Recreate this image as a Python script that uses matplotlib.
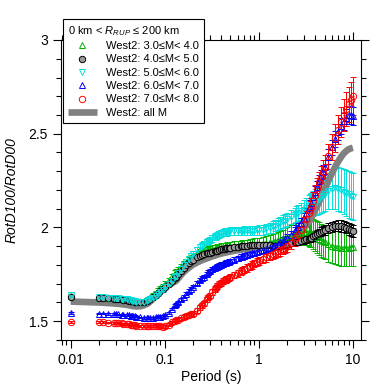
import numpy as np
import matplotlib
matplotlib.use("Agg")
import matplotlib.pyplot as plt
from matplotlib.lines import Line2D
from matplotlib.ticker import FixedLocator, NullFormatter, FixedFormatter, MultipleLocator

plt.rcParams['font.family'] = ['Liberation Sans', 'DejaVu Sans']
plt.rcParams['mathtext.fontset'] = 'custom'
plt.rcParams['mathtext.it'] = 'Liberation Sans:italic'
plt.rcParams['mathtext.rm'] = 'Liberation Sans'

# NGA-West2 periods (s)
periods = [0.01, 0.02, 0.022, 0.025, 0.029, 0.03, 0.032, 0.035, 0.036, 0.04,
           0.042, 0.044, 0.045, 0.046, 0.048, 0.05, 0.055, 0.06, 0.065, 0.067,
           0.07, 0.075, 0.08, 0.085, 0.09, 0.095, 0.1, 0.11, 0.12, 0.13,
           0.133, 0.14, 0.15, 0.16, 0.17, 0.18, 0.19, 0.2, 0.22, 0.24,
           0.25, 0.26, 0.28, 0.29, 0.3, 0.32, 0.34, 0.35, 0.36, 0.38,
           0.4, 0.42, 0.44, 0.45, 0.46, 0.48, 0.5, 0.55, 0.6, 0.65,
           0.667, 0.7, 0.75, 0.8, 0.85, 0.9, 0.95, 1, 1.1, 1.2,
           1.3, 1.4, 1.5, 1.6, 1.7, 1.8, 1.9, 2, 2.2, 2.4,
           2.5, 2.6, 2.8, 3, 3.2, 3.4, 3.5, 3.6, 3.8, 4,
           4.2, 4.4, 4.6, 4.8, 5, 5.5, 6, 6.5, 7, 7.5,
           8, 8.5, 9, 9.5, 10]

# M 3-4
m34 = [1.636, 1.628, 1.627, 1.625, 1.622, 1.621, 1.620, 1.618, 1.617, 1.614,
       1.612, 1.610, 1.609, 1.608, 1.606, 1.605, 1.604, 1.608, 1.616, 1.620,
       1.627, 1.638, 1.651, 1.664, 1.677, 1.689, 1.700, 1.720, 1.740, 1.758,
       1.763, 1.775, 1.790, 1.804, 1.817, 1.828, 1.838, 1.846, 1.858, 1.866,
       1.869, 1.872, 1.877, 1.879, 1.881, 1.884, 1.887, 1.888, 1.889, 1.891,
       1.893, 1.894, 1.895, 1.896, 1.897, 1.898, 1.899, 1.901, 1.903, 1.904,
       1.905, 1.906, 1.907, 1.909, 1.910, 1.911, 1.912, 1.913, 1.915, 1.917,
       1.920, 1.923, 1.927, 1.931, 1.935, 1.940, 1.944, 1.948, 1.956, 1.963,
       1.966, 1.969, 1.973, 1.976, 1.977, 1.976, 1.975, 1.972, 1.966, 1.958,
       1.950, 1.941, 1.933, 1.926, 1.920, 1.910, 1.903, 1.898, 1.895, 1.893,
       1.892, 1.892, 1.893, 1.895, 1.897]
m34_err = [.008, .007, .007, .007, .007, .007, .007, .007, .007, .007,
           .007, .007, .007, .007, .007, .007, .008, .008, .008, .009,
           .009, .010, .010, .011, .011, .012, .012, .013, .013, .014,
           .014, .015, .015, .016, .016, .017, .017, .018, .018, .019,
           .019, .019, .020, .020, .020, .021, .021, .021, .022, .022,
           .022, .023, .023, .023, .024, .024, .024, .025, .026, .026,
           .027, .027, .028, .029, .030, .031, .032, .033, .035, .037,
           .039, .041, .043, .045, .047, .049, .051, .053, .056, .059,
           .061, .063, .066, .069, .072, .075, .077, .078, .080, .082,
           .084, .086, .088, .089, .090, .092, .094, .095, .096, .097,
           .098, .099, .100, .100, .100]

# M 4-5
m45 = [1.632, 1.626, 1.625, 1.622, 1.620, 1.619, 1.618, 1.616, 1.615, 1.612,
       1.610, 1.608, 1.607, 1.606, 1.604, 1.602, 1.600, 1.602, 1.608, 1.611,
       1.617, 1.627, 1.638, 1.650, 1.662, 1.673, 1.683, 1.701, 1.715, 1.732,
       1.738, 1.752, 1.770, 1.786, 1.800, 1.811, 1.820, 1.828, 1.840, 1.849,
       1.853, 1.856, 1.862, 1.864, 1.866, 1.870, 1.873, 1.875, 1.877, 1.880,
       1.883, 1.885, 1.887, 1.888, 1.889, 1.890, 1.891, 1.894, 1.897, 1.899,
       1.900, 1.901, 1.903, 1.905, 1.906, 1.907, 1.908, 1.909, 1.908, 1.906,
       1.904, 1.902, 1.901, 1.902, 1.904, 1.906, 1.909, 1.912, 1.917, 1.921,
       1.923, 1.925, 1.929, 1.933, 1.937, 1.941, 1.943, 1.946, 1.952, 1.958,
       1.964, 1.970, 1.976, 1.982, 1.987, 1.996, 2.003, 2.008, 2.010, 2.008,
       2.004, 1.999, 1.993, 1.987, 1.982]
m45_err = [.004, .003, .003, .003, .003, .003, .003, .003, .003, .003,
           .003, .003, .003, .003, .003, .003, .003, .003, .004, .004,
           .004, .004, .004, .005, .005, .005, .005, .005, .006, .006,
           .006, .006, .006, .007, .007, .007, .007, .007, .008, .008,
           .008, .008, .008, .008, .008, .009, .009, .009, .009, .009,
           .009, .009, .010, .010, .010, .010, .010, .010, .011, .011,
           .011, .011, .011, .012, .012, .012, .012, .013, .013, .013,
           .014, .014, .014, .015, .015, .015, .016, .016, .017, .017,
           .018, .018, .019, .019, .020, .020, .021, .021, .022, .022,
           .023, .023, .024, .024, .025, .026, .027, .028, .029, .030,
           .030, .031, .031, .032, .032]

# M 5-6
m56 = [1.638, 1.630, 1.628, 1.626, 1.624, 1.623, 1.622, 1.620, 1.619, 1.616,
       1.613, 1.611, 1.609, 1.608, 1.606, 1.604, 1.602, 1.603, 1.608, 1.611,
       1.616, 1.624, 1.634, 1.645, 1.657, 1.668, 1.680, 1.700, 1.716, 1.735,
       1.742, 1.758, 1.780, 1.800, 1.818, 1.834, 1.848, 1.860, 1.880, 1.896,
       1.903, 1.910, 1.922, 1.928, 1.933, 1.942, 1.950, 1.954, 1.957, 1.963,
       1.968, 1.972, 1.975, 1.976, 1.977, 1.979, 1.980, 1.982, 1.983, 1.983,
       1.983, 1.983, 1.982, 1.982, 1.982, 1.983, 1.984, 1.985, 1.988, 1.992,
       1.997, 2.003, 2.010, 2.017, 2.024, 2.031, 2.037, 2.043, 2.055, 2.066,
       2.071, 2.076, 2.086, 2.095, 2.104, 2.113, 2.117, 2.121, 2.128, 2.135,
       2.142, 2.150, 2.160, 2.170, 2.178, 2.195, 2.205, 2.210, 2.205, 2.198,
       2.190, 2.183, 2.177, 2.170, 2.165]
m56_err = [.008, .006, .006, .006, .006, .006, .006, .006, .006, .006,
           .006, .006, .006, .006, .006, .006, .006, .006, .007, .007,
           .007, .008, .008, .009, .009, .010, .010, .011, .011, .012,
           .012, .013, .013, .014, .014, .015, .015, .016, .016, .017,
           .017, .017, .018, .018, .018, .018, .019, .019, .019, .019,
           .020, .020, .020, .020, .020, .020, .021, .021, .022, .022,
           .022, .023, .023, .024, .024, .025, .025, .026, .027, .028,
           .029, .030, .031, .032, .033, .034, .035, .036, .038, .040,
           .042, .044, .047, .050, .054, .058, .060, .062, .066, .070,
           .074, .078, .082, .086, .090, .098, .105, .110, .115, .118,
           .120, .122, .124, .125, .126]

# M 6-7
m67 = [1.545, 1.540, 1.540, 1.539, 1.538, 1.537, 1.536, 1.535, 1.534, 1.532,
       1.531, 1.530, 1.529, 1.528, 1.527, 1.525, 1.521, 1.518, 1.517, 1.517,
       1.517, 1.518, 1.520, 1.522, 1.525, 1.528, 1.532, 1.545, 1.565, 1.585,
       1.590, 1.602, 1.617, 1.632, 1.647, 1.661, 1.673, 1.684, 1.703, 1.721,
       1.730, 1.738, 1.753, 1.760, 1.766, 1.776, 1.784, 1.788, 1.791, 1.797,
       1.802, 1.806, 1.810, 1.812, 1.814, 1.818, 1.821, 1.829, 1.836, 1.842,
       1.844, 1.848, 1.853, 1.858, 1.862, 1.866, 1.869, 1.872, 1.878, 1.884,
       1.890, 1.897, 1.905, 1.913, 1.921, 1.929, 1.936, 1.943, 1.960, 1.980,
       1.991, 2.002, 2.025, 2.050, 2.076, 2.103, 2.117, 2.131, 2.160, 2.189,
       2.218, 2.246, 2.273, 2.298, 2.322, 2.378, 2.428, 2.471, 2.508, 2.540,
       2.566, 2.586, 2.598, 2.600, 2.595]
m67_err = [.004, .004, .004, .004, .004, .004, .004, .004, .004, .004,
           .004, .004, .004, .004, .004, .004, .004, .005, .005, .005,
           .005, .005, .005, .006, .006, .006, .006, .007, .007, .007,
           .008, .008, .008, .008, .009, .009, .009, .009, .010, .010,
           .010, .010, .011, .011, .011, .011, .011, .012, .012, .012,
           .012, .012, .012, .013, .013, .013, .013, .013, .014, .014,
           .014, .014, .015, .015, .015, .015, .016, .016, .016, .017,
           .017, .018, .018, .019, .019, .020, .020, .021, .022, .023,
           .023, .024, .025, .026, .027, .028, .029, .029, .030, .031,
           .032, .033, .034, .035, .036, .038, .040, .041, .042, .043,
           .044, .045, .045, .046, .046]

# M 7-8
m78 = [1.497, 1.495, 1.494, 1.493, 1.492, 1.491, 1.490, 1.488, 1.487, 1.485,
       1.483, 1.481, 1.480, 1.479, 1.478, 1.477, 1.475, 1.474, 1.474, 1.474,
       1.475, 1.476, 1.477, 1.476, 1.473, 1.471, 1.473, 1.482, 1.494, 1.503,
       1.505, 1.509, 1.515, 1.521, 1.526, 1.531, 1.536, 1.541, 1.556, 1.575,
       1.585, 1.596, 1.617, 1.627, 1.637, 1.656, 1.672, 1.679, 1.686, 1.697,
       1.706, 1.713, 1.719, 1.722, 1.725, 1.730, 1.735, 1.746, 1.756, 1.766,
       1.769, 1.775, 1.784, 1.792, 1.800, 1.808, 1.815, 1.822, 1.833, 1.842,
       1.850, 1.858, 1.865, 1.872, 1.879, 1.886, 1.893, 1.900, 1.917, 1.938,
       1.950, 1.962, 1.988, 2.016, 2.045, 2.076, 2.092, 2.108, 2.141, 2.175,
       2.208, 2.240, 2.270, 2.298, 2.323, 2.380, 2.430, 2.478, 2.522, 2.562,
       2.598, 2.630, 2.657, 2.680, 2.700]
m78_err = [.005, .005, .005, .005, .005, .005, .005, .005, .005, .005,
           .005, .005, .005, .005, .005, .005, .006, .006, .006, .006,
           .006, .006, .007, .007, .007, .007, .008, .008, .009, .009,
           .009, .010, .010, .010, .011, .011, .012, .012, .012, .013,
           .013, .013, .014, .014, .014, .015, .015, .015, .016, .016,
           .016, .016, .017, .017, .017, .017, .017, .018, .018, .019,
           .019, .019, .020, .020, .021, .021, .022, .022, .023, .024,
           .025, .026, .027, .028, .029, .030, .031, .032, .034, .036,
           .037, .038, .040, .042, .044, .046, .047, .048, .050, .052,
           .054, .056, .058, .060, .062, .066, .070, .074, .078, .082,
           .086, .090, .094, .097, .100]

# all M
all_m = [1.605, 1.600, 1.599, 1.597, 1.595, 1.594, 1.593, 1.591, 1.590, 1.587,
         1.585, 1.583, 1.582, 1.581, 1.580, 1.579, 1.580, 1.585, 1.593, 1.597,
         1.605, 1.618, 1.633, 1.647, 1.660, 1.671, 1.680, 1.693, 1.703, 1.713,
         1.717, 1.730, 1.748, 1.763, 1.775, 1.785, 1.794, 1.802, 1.813, 1.822,
         1.826, 1.829, 1.835, 1.838, 1.841, 1.846, 1.850, 1.852, 1.854, 1.858,
         1.861, 1.864, 1.866, 1.867, 1.868, 1.870, 1.872, 1.876, 1.879, 1.882,
         1.883, 1.885, 1.887, 1.889, 1.891, 1.893, 1.895, 1.897, 1.900, 1.903,
         1.906, 1.909, 1.912, 1.915, 1.919, 1.923, 1.927, 1.932, 1.942, 1.953,
         1.959, 1.966, 1.980, 1.995, 2.012, 2.031, 2.041, 2.051, 2.073, 2.096,
         2.118, 2.140, 2.162, 2.183, 2.203, 2.250, 2.290, 2.324, 2.353, 2.377,
         2.395, 2.408, 2.417, 2.422, 2.425]

legend_title = "0 km < $R_{RUP}$ \u2264 200 km"
labels = ["West2: 3.0\u2264M< 4.0", "West2: 4.0\u2264M< 5.0", "West2: 5.0\u2264M< 6.0",
          "West2: 6.0\u2264M< 7.0", "West2: 7.0\u2264M< 8.0", "West2: all M"]

GREEN, CYAN, BLUE, RED, GRAY = '#00b400', '#00dede', '#0000ff', '#ff0000', '#808080'

fig = plt.figure(figsize=(3.76, 3.85), dpi=100)
ax = fig.add_axes([61 / 376, 1 - 340 / 385, 300 / 376, 300 / 385])

T = np.array(periods)
eb = dict(capsize=2.0, elinewidth=0.7, capthick=0.7, linestyle='none',
          markersize=4.6, markeredgewidth=0.7)

ax.errorbar(T, m34, yerr=m34_err, marker='^', color=GREEN, mfc='none', **eb)
ax.errorbar(T, m45, yerr=m45_err, marker='o', color='black', mfc='#9a9a9a', **eb)
ax.plot(T, m45, 'k.', markersize=1.3)
ax.errorbar(T, m56, yerr=m56_err, marker='v', color=CYAN, mfc='none', **eb)
ax.errorbar(T, m67, yerr=m67_err, marker='^', color=BLUE, mfc='none', **eb)
ax.errorbar(T, m78, yerr=m78_err, marker='o', color=RED, mfc='none', **eb)
ax.plot(T, m78, '.', color=RED, markersize=1.3)
ax.plot(T, all_m, color=GRAY, linewidth=4.8, solid_capstyle='butt')

ax.set_xscale('log')
ax.set_xlim(0.0079, 12.2)
ax.set_ylim(1.4, 3.0)

ax.xaxis.set_major_locator(FixedLocator([0.01, 0.1, 1, 10]))
ax.xaxis.set_major_formatter(FixedFormatter(["0.01", "0.1", "1", "10"]))
ax.xaxis.set_minor_locator(matplotlib.ticker.LogLocator(base=10, subs=np.arange(2, 10)))
ax.xaxis.set_minor_formatter(NullFormatter())
ax.yaxis.set_major_locator(FixedLocator([1.5, 2, 2.5, 3]))
ax.yaxis.set_major_formatter(FixedFormatter(["1.5", "2", "2.5", "3"]))
ax.yaxis.set_minor_locator(MultipleLocator(0.1))

ax.tick_params(which='both', direction='out', top=True, right=True, width=0.8, labelsize=10)
ax.tick_params(which='major', length=6)
ax.tick_params(which='minor', length=3.5)
for s in ax.spines.values():
    s.set_linewidth(0.8)

ax.set_xlabel("Period (s)", fontsize=10, labelpad=2)
ax.set_ylabel("RotD100/RotD00", fontsize=10, style='italic')
ax.yaxis.set_label_coords(-0.142, 0.5)

# legend shows markers only
handles = [
    Line2D([], [], ls='none', marker='^', color=GREEN, mfc='none', ms=4.6, mew=0.7),
    Line2D([], [], ls='none', marker='o', color='black', mfc='#9a9a9a', ms=4.6, mew=0.7),
    Line2D([], [], ls='none', marker='v', color=CYAN, mfc='none', ms=4.6, mew=0.7),
    Line2D([], [], ls='none', marker='^', color=BLUE, mfc='none', ms=4.6, mew=0.7),
    Line2D([], [], ls='none', marker='o', color=RED, mfc='none', ms=4.6, mew=0.7),
    Line2D([], [], color=GRAY, lw=4.8, solid_capstyle='butt'),
]
leg = ax.legend(handles, labels, title=legend_title,
                loc='upper left', bbox_to_anchor=(63 / 376, 1 - 19 / 385),
                bbox_transform=fig.transFigure, borderaxespad=0,
                fontsize=8, title_fontsize=8, fancybox=False, framealpha=1,
                edgecolor='black', handlelength=2.6, handletextpad=0.8,
                labelspacing=0.3, borderpad=0.45, alignment='left')
leg.get_frame().set_linewidth(0.8)
leg.set_zorder(10)

fig.savefig("out.png", dpi=100)
